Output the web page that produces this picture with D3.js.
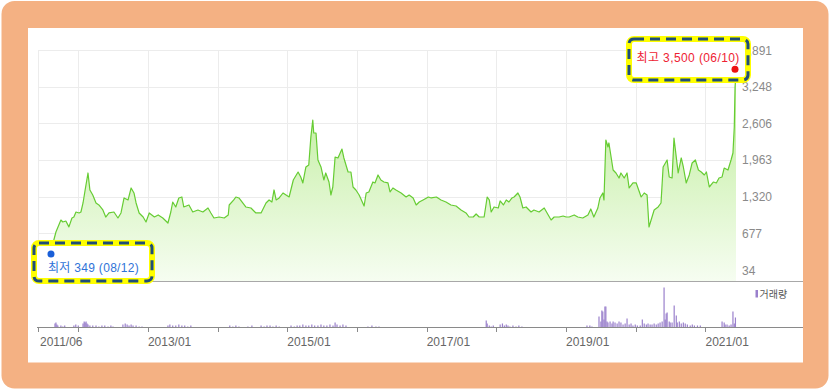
<!DOCTYPE html>
<html>
<head>
<meta charset="utf-8">
<script src="https://cdn.jsdelivr.net/npm/d3@7/dist/d3.min.js"></script>
<style>
html,body{margin:0;padding:0;background:#fff;}
svg{display:block;}
text{font-family:"Liberation Sans","Noto Sans CJK KR",Arial,sans-serif;}
</style>
</head>
<body>
<svg id="chart" width="831" height="391"></svg>
<script>
// ---------- DATA ----------
const priceDates = [
"2011-06-05","2011-07-05","2011-08-12","2011-08-27","2011-09-07","2011-10-03","2011-10-13","2011-10-29","2011-11-14","2011-11-30","2011-12-10","2011-12-21",
"2012-01-06","2012-01-16","2012-01-27","2012-02-07","2012-02-22","2012-03-03","2012-03-18","2012-04-04","2012-04-19","2012-05-10","2012-05-25","2012-06-11","2012-07-07","2012-07-28","2012-08-13","2012-08-29","2012-09-19","2012-10-05","2012-10-20","2012-10-31","2012-11-16","2012-12-07","2012-12-22",
"2013-01-08","2013-02-04","2013-02-24","2013-03-20","2013-04-16","2013-05-01","2013-05-11","2013-05-27","2013-06-12","2013-06-28","2013-07-08","2013-08-04","2013-08-24","2013-09-20","2013-10-16","2013-11-12","2013-11-27","2013-12-13",
"2014-01-10","2014-02-05","2014-02-26","2014-03-03","2014-03-27","2014-04-07","2014-04-23","2014-05-29","2014-06-25","2014-07-21","2014-08-17","2014-09-12","2014-09-28","2014-10-13","2014-10-24","2014-11-04","2014-11-20","2014-12-10","2014-12-26",
"2015-01-11","2015-02-02","2015-02-27","2015-03-13","2015-03-24","2015-04-09","2015-04-24","2015-05-05","2015-05-15","2015-05-20","2015-06-01","2015-06-11","2015-06-27","2015-07-12","2015-07-22","2015-08-08","2015-08-18","2015-08-28","2015-09-09","2015-09-24","2015-10-15","2015-10-25","2015-11-16","2015-12-01","2015-12-12","2015-12-27",
"2016-01-13","2016-02-08","2016-02-19","2016-03-04","2016-03-25","2016-04-05","2016-04-21","2016-05-06","2016-05-22","2016-06-12","2016-06-23","2016-07-08","2016-07-24","2016-08-20","2016-09-15","2016-10-01","2016-10-22","2016-11-07","2016-11-23","2016-12-13",
"2017-01-10","2017-01-25","2017-02-21","2017-03-17","2017-04-12","2017-05-08","2017-06-04","2017-06-30","2017-07-26","2017-08-11","2017-09-02","2017-09-17","2017-10-03","2017-10-29","2017-11-14","2017-11-25","2017-12-05","2017-12-20",
"2018-01-11","2018-01-21","2018-02-07","2018-02-22","2018-03-08","2018-03-24","2018-04-04","2018-04-24","2018-05-05","2018-05-20","2018-06-06","2018-07-02","2018-07-17","2018-08-13","2018-09-09","2018-09-30","2018-10-15","2018-10-31","2018-11-26","2018-12-17",
"2019-01-02","2019-01-18","2019-02-13","2019-03-04","2019-03-30","2019-04-26","2019-05-11","2019-05-27","2019-06-17","2019-06-28","2019-07-13","2019-07-19","2019-07-29","2019-08-09","2019-08-14","2019-09-05","2019-09-20","2019-10-06","2019-10-16","2019-11-02","2019-11-17","2019-11-28","2019-12-18",
"2020-01-04","2020-01-30","2020-02-15","2020-03-01","2020-03-11","2020-04-07","2020-04-28","2020-05-13","2020-05-24","2020-06-14","2020-06-25","2020-07-10","2020-07-20","2020-08-11","2020-08-27","2020-09-07","2020-09-22","2020-10-08","2020-10-23","2020-11-09","2020-11-25","2020-12-10","2020-12-26",
"2021-01-06","2021-01-21","2021-02-12","2021-02-27","2021-03-13","2021-03-29","2021-04-09","2021-04-29","2021-05-15","2021-05-25","2021-06-01","2021-06-05","2021-06-10"
];
const priceValues = [
510,440,349,560,700,910,876,893,790,946,963,1051,
1034,1051,1209,1437,1735,1437,1349,1209,1174,1086,963,1034,1051,946,1034,1297,1262,1472,1384,1209,1034,963,876,
1034,963,999,946,858,1051,1226,1139,1297,1314,1139,1174,1051,1086,1051,1121,1034,946,
963,946,999,1174,1262,1314,1297,1139,1121,1034,1034,1209,1262,1226,1437,1262,1297,1384,1349,
1314,1612,1752,1665,1560,1840,1875,2366,2664,2436,2436,1963,1840,1612,1735,1577,1349,1489,2015,1998,2155,1998,1752,1752,1489,1437,
1349,1156,1384,1402,1577,1560,1700,1612,1577,1560,1402,1472,1437,1384,1314,1349,1297,1174,1226,1262,
1314,1297,1314,1262,1226,1174,1156,1086,1034,963,963,1016,963,963,1314,1262,1051,1139,
1121,1244,1174,1262,1226,1297,1314,1384,1314,1121,1139,1051,1086,1051,1121,999,911,963,963,981,
963,963,999,963,946,999,1104,963,1121,1297,1384,1262,2313,2191,2261,1787,1735,1647,1735,1647,1735,1472,1560,
1560,1314,1384,1349,788,1086,1139,1209,1840,1963,1665,1647,2348,1735,1998,1840,1560,1700,1910,1963,1787,1752,1700,
1752,1489,1577,1560,1647,1665,1822,1787,1963,2085,2541,3242,3500
];

const volumeDates = [
"2011-09-02","2011-09-07","2011-09-12","2011-09-17","2011-10-03","2011-10-13","2011-10-23","2011-12-10","2011-12-20",
"2012-01-02","2012-01-27","2012-02-02","2012-02-07","2012-02-12","2012-02-17","2012-02-22","2012-03-03","2012-03-18","2012-04-04","2012-04-19","2012-05-05","2012-05-20","2012-06-06","2012-06-21","2012-07-02","2012-08-23","2012-09-04","2012-09-14","2012-09-24","2012-10-05","2012-10-15","2012-10-31","2012-11-16","2012-12-01",
"2013-04-16","2013-04-26","2013-05-11","2013-05-27","2013-06-12","2013-06-28","2013-07-13","2013-07-29","2013-08-14",
"2014-03-06","2014-03-22","2014-04-07","2014-04-23","2014-06-09","2014-06-30","2014-08-17","2014-09-02","2014-09-17","2014-10-03","2014-10-18","2014-11-04","2014-11-20",
"2015-01-21","2015-02-07","2015-02-22","2015-03-08","2015-03-24","2015-04-09","2015-04-24","2015-05-10","2015-05-25","2015-06-11","2015-06-27","2015-07-12","2015-07-28","2015-08-13","2015-08-29","2015-09-09","2015-09-19","2015-10-05","2015-10-20","2015-11-05",
"2016-02-28","2016-03-20","2016-04-10","2016-04-26",
"2017-11-09","2017-11-14","2017-11-25","2017-12-05","2017-12-16",
"2018-01-21","2018-02-02","2018-02-12","2018-02-22","2018-03-03","2018-03-13","2018-03-29","2018-04-14","2018-04-29","2018-05-15",
"2019-04-21","2019-05-06","2019-05-17","2019-06-23","2019-07-03","2019-07-08","2019-07-13","2019-07-19","2019-07-24","2019-07-29","2019-08-04","2019-08-09","2019-08-20","2019-08-30","2019-09-05","2019-09-15","2019-09-26","2019-10-06","2019-10-16","2019-10-27","2019-11-07","2019-11-17","2019-11-28","2019-12-08","2019-12-18","2019-12-30",
"2020-01-10","2020-01-25","2020-02-05","2020-02-15","2020-02-26","2020-03-06","2020-03-17","2020-03-27","2020-04-07","2020-04-18","2020-04-28","2020-05-08","2020-05-19","2020-05-29","2020-06-04","2020-06-09","2020-06-14","2020-06-25","2020-06-30","2020-07-10","2020-07-21","2020-08-01","2020-08-06","2020-08-17","2020-08-27","2020-09-07","2020-09-17","2020-09-28","2020-10-13","2020-10-24","2020-11-04","2020-11-20","2020-12-05",
"2021-03-29","2021-04-09","2021-04-14","2021-04-24","2021-05-05","2021-05-15","2021-05-25","2021-06-01","2021-06-07"
];
const volumeValues = [
40000,50000,30000,20000,20000,10000,20000,20000,30000,
20000,40000,60000,50000,60000,40000,30000,20000,20000,20000,10000,20000,20000,10000,20000,10000,30000,40000,30000,20000,30000,20000,20000,10000,10000,
20000,30000,20000,20000,30000,20000,20000,10000,20000,
20000,10000,20000,10000,10000,20000,20000,10000,20000,20000,10000,20000,10000,
20000,10000,20000,20000,30000,20000,20000,30000,20000,20000,30000,20000,20000,30000,20000,50000,30000,20000,30000,20000,
10000,20000,10000,10000,
70000,40000,20000,10000,20000,
30000,40000,20000,30000,20000,10000,20000,10000,20000,10000,
20000,20000,10000,110000,60000,170000,160000,80000,210000,210000,60000,50000,60000,40000,60000,50000,40000,60000,50000,30000,40000,90000,30000,40000,20000,30000,
20000,20000,80000,40000,30000,40000,30000,30000,40000,30000,40000,50000,60000,400000,80000,140000,150000,60000,50000,50000,220000,120000,50000,60000,40000,50000,40000,30000,20000,30000,20000,20000,20000,
60000,50000,30000,30000,20000,30000,160000,40000,100000
];

const yTickValues = [34, 677, 1320, 1963, 2606, 3248, 3891];
const xTickDates = ["2011-06-05","2012-01-01","2013-01-01","2014-01-01","2015-01-01","2016-01-01","2017-01-01","2018-01-01","2019-01-01","2020-01-01","2021-01-01"];
const xLabelDates = ["2011-06-05","2013-01-01","2015-01-01","2017-01-01","2019-01-01","2021-01-01"];
const xLabelTexts = ["2011/06","2013/01","2015/01","2017/01","2019/01","2021/01"];
const maxLabel = "최고 3,500 (06/10)";
const minLabel = "최저 349 (08/12)";
const volumeLegend = "거래량";

// ---------- DRAW ----------
const parse = d3.timeParse("%Y-%m-%d");
const price = priceDates.map((d,i)=>({date:parse(d), value:priceValues[i]}));
const volume = volumeDates.map((d,i)=>({date:parse(d), value:volumeValues[i]}));

const svg = d3.select("#chart");

// frame
svg.append("rect").attr("x",1.5).attr("y",1).attr("width",827).attr("height",387.5)
  .attr("rx",13).attr("fill","#f4b183");
svg.append("rect").attr("x",28).attr("y",28).attr("width",775).attr("height",334.5).attr("fill","#ffffff");

const x = d3.scaleTime().domain([price[0].date, price[price.length-1].date]).range([38, 736]);
const y = d3.scaleLinear().domain([34, 3891]).range([270, 50]);
const yv = d3.scaleLinear().domain([0, 400000]).range([327.5, 287.5]);
const plotBottom = 281;

// gradient
const defs = svg.append("defs");
const grad = defs.append("linearGradient").attr("id","areaGrad")
  .attr("gradientUnits","userSpaceOnUse").attr("x1",0).attr("x2",0).attr("y1",110).attr("y2",plotBottom);
grad.append("stop").attr("offset","0%").attr("stop-color","#c6efa6");
grad.append("stop").attr("offset","100%").attr("stop-color","#f6fdf1");

// grid
const grid = svg.append("g");
grid.selectAll("line.h").data(yTickValues).enter().append("line")
  .attr("x1",38).attr("x2",736).attr("y1",d=>Math.round(y(d))+0.5).attr("y2",d=>Math.round(y(d))+0.5)
  .attr("stroke","#ececec").attr("stroke-width",1);
grid.selectAll("line.v").data(xTickDates).enter().append("line")
  .attr("x1",d=>Math.round(x(parse(d)))+0.5).attr("x2",d=>Math.round(x(parse(d)))+0.5)
  .attr("y1",50).attr("y2",plotBottom)
  .attr("stroke","#ececec").attr("stroke-width",1);

// area + line
const area = d3.area().x(d=>x(d.date)).y0(plotBottom).y1(d=>y(d.value));
svg.append("path").datum(price).attr("d",area).attr("fill","url(#areaGrad)");
const line = d3.line().x(d=>x(d.date)).y(d=>y(d.value));
svg.append("path").datum(price).attr("d",line).attr("fill","none")
  .attr("stroke","#66cc33").attr("stroke-width",1.2).attr("stroke-linejoin","round");

// y axis labels
svg.append("g").selectAll("text").data(yTickValues).enter().append("text")
  .attr("x",742).attr("y",d=>y(d)+4.5).attr("font-size",12).attr("fill","#8a8a8a")
  .text(d=>d3.format(",")(d));

// separator
svg.append("line").attr("x1",38).attr("x2",803).attr("y1",plotBottom+0.5).attr("y2",plotBottom+0.5)
  .attr("stroke","#a8a8a8").attr("stroke-width",1);

// volume bars
svg.append("g").selectAll("rect").data(volume).enter().append("rect")
  .attr("x",d=>x(d.date)-0.6).attr("width",1.2)
  .attr("y",d=>yv(d.value)).attr("height",d=>yv(0)-yv(d.value))
  .attr("fill","#9a80cc");

// volume baseline + x axis
const xAxisY = 327.5;
svg.append("line").attr("x1",37).attr("x2",803).attr("y1",xAxisY).attr("y2",xAxisY)
  .attr("stroke","#8a8a8a").attr("stroke-width",1);
svg.append("g").selectAll("line").data(xTickDates).enter().append("line")
  .attr("x1",d=>Math.round(x(parse(d)))+0.5).attr("x2",d=>Math.round(x(parse(d)))+0.5)
  .attr("y1",xAxisY).attr("y2",xAxisY+4.5).attr("stroke","#8a8a8a");
svg.append("g").selectAll("text").data(xLabelDates).enter().append("text")
  .attr("x",(d,i)=>x(parse(d))+(i===0?2:0)).attr("y",345.5).attr("font-size",12).attr("fill","#666")
  .text((d,i)=>xLabelTexts[i]);

// volume legend
svg.append("rect").attr("x",755.5).attr("y",290).attr("width",2.5).attr("height",7.5).attr("fill","#9a80cc");
svg.append("text").attr("x",759.5).attr("y",298).attr("font-size",10).attr("fill","#555").text(volumeLegend);

// highlight boxes
function hbox(x0,y0,w,h){
  const g = svg.append("g");
  g.append("rect").attr("x",x0).attr("y",y0).attr("width",w).attr("height",h).attr("rx",5)
    .attr("fill","#fff").attr("stroke","#ffff00").attr("stroke-width",6);
  g.append("rect").attr("x",x0).attr("y",y0).attr("width",w).attr("height",h).attr("rx",5)
    .attr("fill","none").attr("stroke","#1f4e79").attr("stroke-width",3)
    .attr("stroke-dasharray","10,6");
}
const maxPt = price.reduce((a,b)=>b.value>a.value?b:a);
const minPt = price.reduce((a,b)=>b.value<a.value?b:a);

hbox(629,39,119,41);
svg.append("circle").attr("cx",x(maxPt.date)-1).attr("cy",y(maxPt.value)-3).attr("r",3.5).attr("fill","#ee1111");
svg.append("text").attr("x",636.5).attr("y",61.5).attr("font-size",12).attr("letter-spacing",0.4)
  .attr("fill","#ee2233").text(maxLabel);

hbox(34,243,118,38);
svg.append("circle").attr("cx",x(minPt.date)).attr("cy",y(minPt.value)+2).attr("r",3.5).attr("fill","#1a5fd8");
svg.append("text").attr("x",48).attr("y",271.5).attr("font-size",12).attr("letter-spacing",0.3)
  .attr("fill","#2f73d8").text(minLabel);
</script>
</body>
</html>
